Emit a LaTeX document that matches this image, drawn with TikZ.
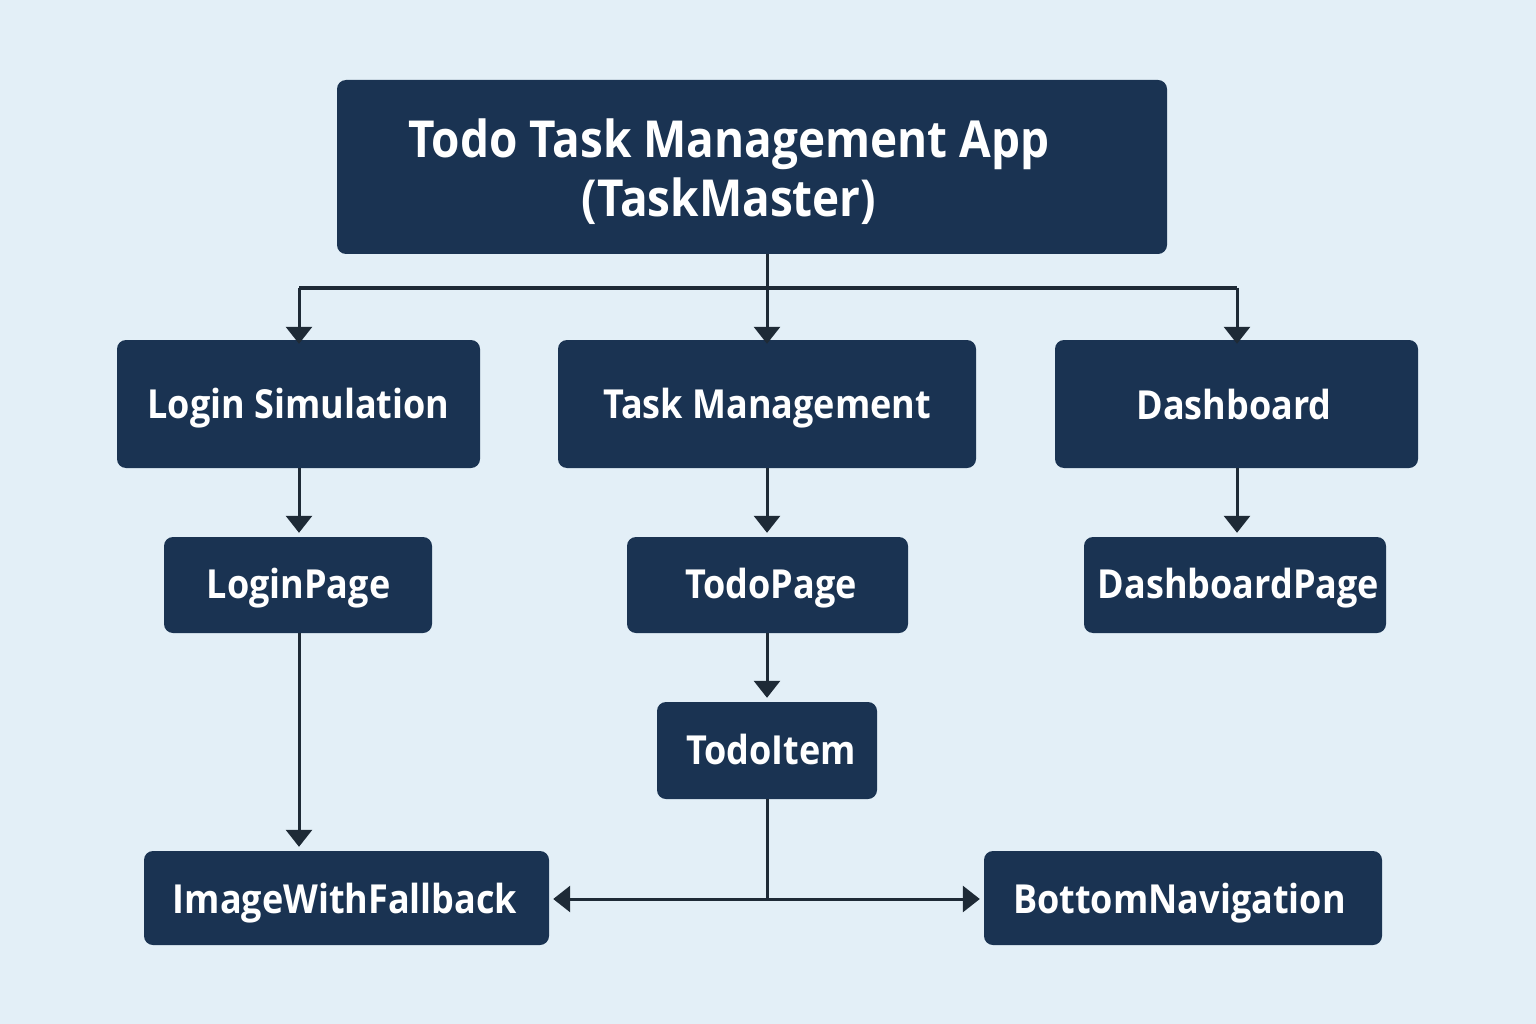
\documentclass[tikz,border=0pt]{standalone}
\usepackage{fontspec}
\setmainfont{Open Sans}
\newfontfamily\lblfont[FakeStretch=0.9]{Open Sans}
\usetikzlibrary{arrows.meta}
\definecolor{bg}{HTML}{E3EFF7}
\definecolor{boxc}{HTML}{1A3352}
\definecolor{linec}{HTML}{1E2A36}
\tikzset{
  x=1pt,y=1pt,
  box/.style={fill=boxc,rounded corners=9pt,draw=none},
  lbl/.style={text=white,font=\lblfont\bfseries\fontsize{40}{46}\selectfont,inner sep=0pt,anchor=base},
  conn/.style={draw=linec,line width=3pt},
  arr/.style={conn,-{Triangle[width=26pt,length=17pt]}},
}
\begin{document}
\begin{tikzpicture}
\fill[bg] (0,0) rectangle (1536,-1024);
\useasboundingbox (0,0) rectangle (1536,-1024);
% boxes
\node[box,minimum width=830pt,minimum height=174pt] (app) at (752,-167) {};
\node[lbl,align=center,font=\lblfont\bfseries\fontsize{51}{59}\selectfont] (apptext) at (729,-217) {Todo Task Management App\\(TaskMaster)};
\node[box,minimum width=363pt,minimum height=128pt] (login) at (298.5,-404) {};
\node[lbl] (logintext) at (298.5,-418) {Login Simulation};
\node[box,minimum width=418pt,minimum height=128pt] (task) at (767,-404) {};
\node[lbl] (tasktext) at (767,-418) {Task Management};
\node[box,minimum width=363pt,minimum height=128pt] (dash) at (1236.5,-404) {};
\node[lbl] (dashtext) at (1234,-419) {Dashboard};
\node[box,minimum width=268pt,minimum height=96pt] (loginpage) at (298,-585) {};
\node[lbl] (loginpagetext) at (298.5,-598) {LoginPage};
\node[box,minimum width=281pt,minimum height=96pt] (todopage) at (767.5,-585) {};
\node[lbl] (todopagetext) at (771,-598) {TodoPage};
\node[box,minimum width=302pt,minimum height=96pt] (dashpage) at (1235,-585) {};
\node[lbl] (dashpagetext) at (1238.5,-598) {DashboardPage};
\node[box,minimum width=220pt,minimum height=97pt] (todoitem) at (767,-750.5) {};
\node[lbl] (todoitemtext) at (771,-764) {TodoItem};
\node[box,minimum width=405pt,minimum height=94pt] (image) at (346.5,-898) {};
\node[lbl] (imagetext) at (345,-913) {ImageWithFallback};
\node[box,minimum width=398pt,minimum height=94pt] (bottom) at (1183,-898) {};
\node[lbl] (bottomtext) at (1179.5,-913) {BottomNavigation};
% connectors
\coordinate (split) at (767,-288);
\coordinate (splitL) at (299,-288);
\coordinate (splitR) at (1237,-288);
\draw[conn] (app.south -| split) -- (split);
\draw[conn] (splitL) -- (splitR);
\draw[arr] (splitL) -- ([yshift=-4pt]login.north -| splitL);
\draw[arr] (split) -- ([yshift=-4pt]task.north -| split);
\draw[arr] (splitR) -- ([yshift=-4pt]dash.north -| splitR);
\draw[arr] (login.south -| splitL) -- ([yshift=4pt]loginpage.north -| splitL);
\draw[arr] (task.south -| split) -- ([yshift=4pt]todopage.north -| split);
\draw[arr] (dash.south -| splitR) -- ([yshift=4pt]dashpage.north -| splitR);
\draw[arr] (loginpage.south -| splitL) -- ([yshift=4pt]image.north -| splitL);
\draw[arr] (todopage.south -| split) -- ([yshift=4pt]todoitem.north -| split);
\coordinate (join) at (767,-899);
\draw[conn] (todoitem.south -| join) -- (join);
\draw[arr] (join) -- ([xshift=4pt]image.east |- join);
\draw[arr] (join) -- ([xshift=-4pt]bottom.west |- join);
\end{tikzpicture}
\end{document}
